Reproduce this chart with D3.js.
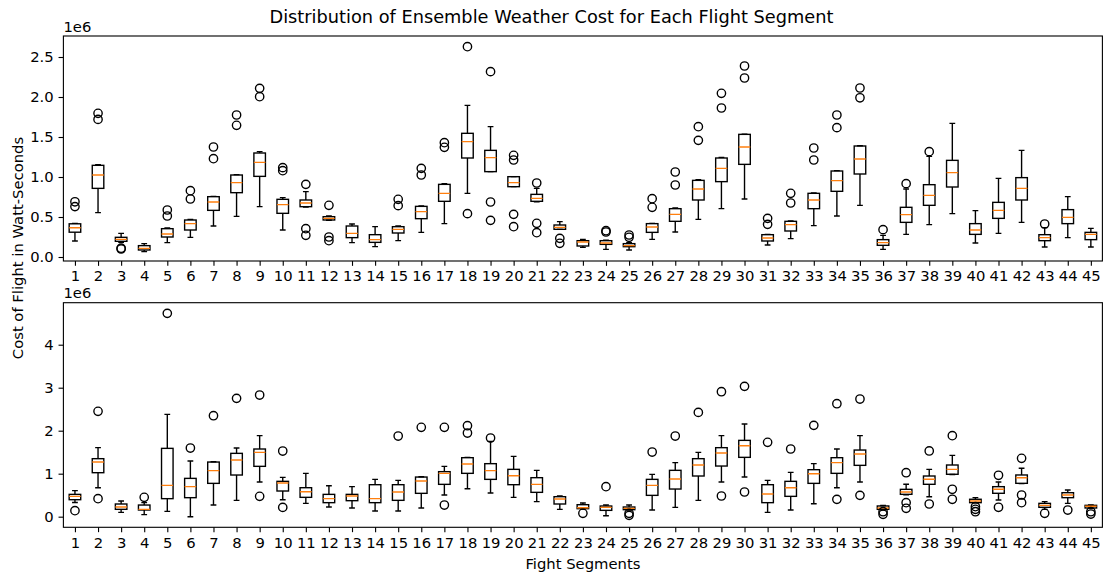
<!DOCTYPE html>
<html>
<head>
<meta charset="utf-8">
<script src="https://cdn.jsdelivr.net/npm/d3@7"></script>
<style>
  html, body { margin: 0; padding: 0; background: #fff; }
  svg { display: block; font-family: "DejaVu Sans", sans-serif; }
</style>
</head>
<body>
<svg id="chart" width="1103" height="578"></svg>
<script>
// Flight segments 1..45
const segments = d3.range(1, 46);

// Upper panel: five-number summaries (units of 1e6 W·s)
const topLow  = [0.20,0.554,0.185,0.067,0.179,0.246,0.3875,0.508,0.629,0.3375,0.625,0.46,0.179,0.129,0.204,0.308,0.417,0.796,1.067,0.879,0.69,0.346,0.121,0.096,0.0875,0.221,0.3125,0.471,0.604,0.725,0.15,0.229,0.392,0.5125,0.646,0.096,0.283,0.404,0.542,0.175,0.296,0.433,0.125,0.242,0.125];
const topQ1   = [0.31,0.858,0.196,0.0875,0.25,0.3375,0.583,0.804,1.008,0.546,0.629,0.4625,0.242,0.183,0.30,0.479,0.696,1.2375,1.067,0.879,0.696,0.346,0.1375,0.158,0.129,0.308,0.446,0.7125,0.942,1.158,0.20,0.325,0.604,0.821,1.0375,0.146,0.433,0.646,0.875,0.283,0.483,0.7125,0.204,0.417,0.217];
const topMed  = [0.365,1.025,0.221,0.108,0.2875,0.417,0.6875,0.929,1.183,0.654,0.675,0.483,0.296,0.217,0.346,0.567,0.796,1.442,1.242,0.929,0.733,0.371,0.1875,0.175,0.142,0.375,0.533,0.85,1.108,1.375,0.2375,0.404,0.7125,0.954,1.225,0.179,0.529,0.771,1.054,0.3375,0.583,0.858,0.242,0.496,0.283];
const topQ3   = [0.415,1.146,0.246,0.142,0.354,0.4625,0.754,1.025,1.30,0.721,0.7125,0.504,0.3875,0.279,0.379,0.633,0.908,1.546,1.333,1.004,0.783,0.40,0.204,0.204,0.167,0.417,0.604,0.958,1.2375,1.533,0.279,0.446,0.796,1.075,1.3875,0.217,0.621,0.904,1.208,0.417,0.683,0.992,0.279,0.592,0.308];
const topHigh = [0.42,1.154,0.296,0.167,0.3625,0.47,0.758,1.03,1.317,0.742,0.817,0.5125,0.4125,0.379,0.3875,0.6375,0.917,1.896,1.629,1.004,0.858,0.442,0.221,0.21,0.179,0.421,0.6125,0.967,1.245,1.535,0.283,0.45,0.80,1.08,1.39,0.271,0.85,1.258,1.671,0.579,0.983,1.333,0.367,0.754,0.358];
const topFliers = [[0.69,0.63],[1.796,1.72],[0.10,0.11],[],[0.5875,0.5125],[0.829,0.725],[1.375,1.229],[1.775,1.646],[2.108,2.004],[1.117,1.079],[0.908,0.354,0.271],[0.646,0.25,0.204],[],[],[0.721,0.642],[1.108,1.025],[1.429,1.371],[2.629,0.542],[2.317,0.6875,0.458],[1.271,1.2125,0.533,0.379],[0.925,0.421,0.304],[0.233,0.171],[],[0.329,0.3125],[0.275,0.246],[0.729,0.621],[1.0625,0.90],[1.629,1.458],[2.046,1.8625],[2.3875,2.2375],[0.483,0.408],[0.796,0.675],[1.3625,1.2125],[1.775,1.617],[2.1125,1.99],[0.342],[0.917],[1.317],[],[],[],[],[0.4125],[],[]];

// Lower panel: five-number summaries (units of 1e6 W·s)
const botLow  = [0.33,0.674,0.10,0.047,0.124,0.0,0.271,0.38,0.806,0.395,0.31,0.225,0.202,0.132,0.132,0.202,0.504,0.651,0.55,0.45,0.349,0.171,0.18,0.023,0.155,0.155,0.217,0.38,0.806,0.922,0.10,0.155,0.302,0.674,0.806,0.16,0.51,0.465,0.98,0.32,0.388,0.77,0.171,0.31,0.195];
const botQ1   = [0.395,1.023,0.171,0.155,0.419,0.442,0.775,0.969,1.171,0.597,0.45,0.326,0.372,0.326,0.38,0.543,0.752,1.008,0.868,0.744,0.566,0.295,0.186,0.147,0.163,0.496,0.643,0.946,1.178,1.38,0.326,0.473,0.775,1.008,1.194,0.171,0.52,0.753,0.986,0.326,0.544,0.776,0.218,0.442,0.202];
const botMed  = [0.473,1.271,0.225,0.171,0.729,0.698,1.07,1.318,1.496,0.783,0.581,0.419,0.481,0.419,0.574,0.829,1.008,1.225,1.07,0.953,0.752,0.411,0.209,0.217,0.194,0.729,0.876,1.202,1.481,1.651,0.527,0.674,1.0,1.256,1.457,0.202,0.574,0.87,1.1,0.365,0.637,0.907,0.264,0.504,0.241];
const botQ3   = [0.519,1.349,0.295,0.271,1.589,0.891,1.271,1.473,1.574,0.822,0.674,0.519,0.519,0.744,0.744,0.922,1.047,1.372,1.233,1.101,0.907,0.465,0.279,0.248,0.225,0.868,1.078,1.349,1.605,1.775,0.744,0.822,1.093,1.372,1.55,0.249,0.636,0.946,1.202,0.405,0.698,0.97,0.31,0.558,0.264];
const botHigh = [0.605,1.605,0.364,0.326,2.38,1.295,1.279,1.597,1.884,0.915,1.008,0.721,0.698,0.868,0.845,0.93,1.171,1.38,1.752,1.403,1.078,0.481,0.318,0.271,0.271,0.984,1.256,1.496,1.884,2.155,0.845,1.031,1.233,1.574,1.884,0.26,0.753,1.1,1.427,0.442,0.807,1.125,0.349,0.62,0.271];
const botFliers = [[0.14],[2.45,0.419],[],[0.45],[4.729],[1.597],[2.349],[2.752],[2.829,0.473],[1.527,0.217],[],[],[],[],[1.876],[2.078],[2.078,0.271],[2.116,1.946],[1.829],[],[],[],[0.078],[0.698],[0.078,0.031],[1.504],[1.876],[2.426],[2.907,0.481],[3.031,0.574],[1.729],[1.574],[2.124],[2.628,0.403],[2.736,0.496],[0.116,0.056],[1.023,0.326,0.195],[1.528,0.295],[1.884,0.637,0.405],[0.233,0.171,0.116],[0.963,0.219],[1.357,0.504,0.326],[0.078],[0.155],[0.116,0.062]];

// Tick values
const topYTicks = [0, 0.5, 1.0, 1.5, 2.0, 2.5];
const botYTicks = [0, 1, 2, 3, 4];

const titleText = "Distribution of Ensemble Weather Cost for Each Flight Segment";
const yLabelText = "Cost of Flight in Watt-Seconds";
const xLabelText = "Fight Segments";
const offsetText = "1e6";

const svg = d3.select("#chart");
const PT = 100 / 72;            // points to pixels
const FS = 1.065;               // text scale
const tickLen = 3.5 * PT;
const tickPad = 3.5 * PT;
const fontTick = 10 * PT * FS;
const fontTitle = 12 * PT * FS;
const boxLW = 1.0 * PT;
const spineLW = 0.8 * PT;
const medianColor = "#ff7f0e";

const left = 63.4, right = 1102.4;
const x = d3.scaleLinear().domain([0.5, 45.5]).range([left, right]);

function panel(cfg) {
  const y = d3.scaleLinear().domain(cfg.domain).range([cfg.bottom, cfg.top]);
  const g = svg.append("g");
  const clipId = "clip" + cfg.name;
  svg.append("clipPath").attr("id", clipId)
    .append("rect").attr("x", left).attr("y", cfg.top)
    .attr("width", right - left).attr("height", cfg.bottom - cfg.top);

  const rows = segments.map((s, i) => ({
    s, lo: cfg.low[i], q1: cfg.q1[i], med: cfg.med[i], q3: cfg.q3[i], hi: cfg.high[i], fl: cfg.fliers[i]
  }));

  const plot = g.append("g").attr("clip-path", `url(#${clipId})`);
  const bw = 0.25;   // half box width (data units)
  const cw = 0.125;  // half cap width

  const box = plot.selectAll("g.box").data(rows).join("g").attr("class", "box")
    .attr("fill", "none").attr("stroke", "#000").attr("stroke-width", boxLW);

  // whiskers
  box.append("line").attr("x1", d => x(d.s)).attr("x2", d => x(d.s))
    .attr("y1", d => y(d.q1)).attr("y2", d => y(d.lo));
  box.append("line").attr("x1", d => x(d.s)).attr("x2", d => x(d.s))
    .attr("y1", d => y(d.q3)).attr("y2", d => y(d.hi));
  // caps
  box.append("line").attr("x1", d => x(d.s - cw)).attr("x2", d => x(d.s + cw))
    .attr("y1", d => y(d.lo)).attr("y2", d => y(d.lo));
  box.append("line").attr("x1", d => x(d.s - cw)).attr("x2", d => x(d.s + cw))
    .attr("y1", d => y(d.hi)).attr("y2", d => y(d.hi));
  // box
  box.append("rect").attr("x", d => x(d.s - bw)).attr("width", x(1 + bw) - x(1 - bw))
    .attr("y", d => y(d.q3)).attr("height", d => y(d.q1) - y(d.q3));
  // median
  box.append("line").attr("stroke", medianColor)
    .attr("x1", d => x(d.s - bw)).attr("x2", d => x(d.s + bw))
    .attr("y1", d => y(d.med)).attr("y2", d => y(d.med));
  // outliers
  box.selectAll("circle").data(d => d.fl.map(v => ({ s: d.s, v }))).join("circle")
    .attr("cx", d => x(d.s)).attr("cy", d => y(d.v)).attr("r", 3 * PT);

  // axes
  const xAxis = d3.axisBottom(x).tickValues(segments).tickFormat(d3.format("d"))
    .tickSize(tickLen).tickPadding(tickPad);
  const yAxis = d3.axisLeft(y).tickValues(cfg.yTicks).tickFormat(d3.format(cfg.fmt))
    .tickSize(tickLen).tickPadding(tickPad);

  const gx = g.append("g").attr("transform", `translate(0,${cfg.bottom})`).call(xAxis);
  const gy = g.append("g").attr("transform", `translate(${left},0)`).call(yAxis);
  [gx, gy].forEach(a => {
    a.select(".domain").remove();
    a.selectAll(".tick line").attr("stroke", "#000").attr("stroke-width", spineLW);
    a.selectAll(".tick text").attr("fill", "#000")
      .style("font-family", "DejaVu Sans").style("font-size", fontTick + "px");
  });

  // spines
  g.append("rect").attr("x", left).attr("y", cfg.top)
    .attr("width", right - left).attr("height", cfg.bottom - cfg.top)
    .attr("fill", "none").attr("stroke", "#000").attr("stroke-width", spineLW);

  // scale offset label
  g.append("text").attr("x", left).attr("y", cfg.top - 4.5)
    .attr("font-size", fontTick).attr("fill", "#000").text(offsetText);
}

panel({
  name: "Top", top: 36, bottom: 261, domain: [-0.05, 2.7625],
  low: topLow, q1: topQ1, med: topMed, q3: topQ3, high: topHigh, fliers: topFliers,
  yTicks: topYTicks, fmt: ".1f"
});
panel({
  name: "Bottom", top: 302.7, bottom: 527.3, domain: [-0.247, 4.977],
  low: botLow, q1: botQ1, med: botMed, q3: botQ3, high: botHigh, fliers: botFliers,
  yTicks: botYTicks, fmt: "d"
});

// title and axis labels
svg.append("text").attr("x", 551.5).attr("y", 22.5).attr("text-anchor", "middle")
  .attr("font-size", fontTitle).attr("fill", "#000").text(titleText);
svg.append("text").attr("x", (left + right) / 2).attr("y", 568.5).attr("text-anchor", "middle")
  .attr("font-size", fontTick).attr("fill", "#000").text(xLabelText);
svg.append("text").attr("transform", "translate(22.5,248) rotate(-90)").attr("text-anchor", "middle")
  .attr("font-size", fontTick).attr("fill", "#000").text(yLabelText);
</script>
</body>
</html>
